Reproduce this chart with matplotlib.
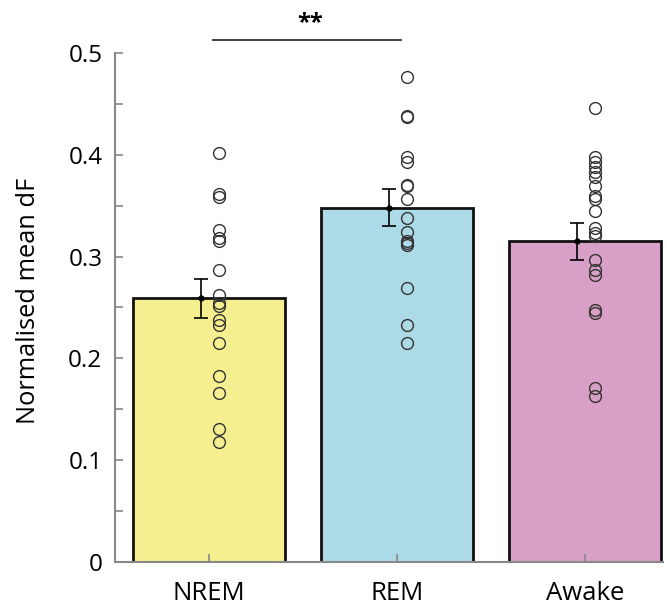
import numpy as np
import matplotlib
matplotlib.use("Agg")
import matplotlib.pyplot as plt

# -------------------------------------
# Data
# -------------------------------------
states = ["NREM", "REM", "Awake"]
bar_colors = ["#F5EF8F", "#ACDAE6", "#D8A0C7"]
means = [0.259, 0.348, 0.315]
sems = [0.019, 0.018, 0.018]

nrem_pts = [0.402, 0.361, 0.359, 0.326, 0.318, 0.315, 0.287, 0.262, 0.254,
            0.251, 0.238, 0.233, 0.215, 0.183, 0.166, 0.131, 0.118]
rem_pts = [0.476, 0.438, 0.437, 0.398, 0.393, 0.370, 0.369, 0.357, 0.338,
           0.324, 0.315, 0.313, 0.311, 0.269, 0.233, 0.215]
awake_pts = [0.446, 0.398, 0.393, 0.388, 0.383, 0.378, 0.369, 0.360, 0.357,
             0.345, 0.328, 0.323, 0.320, 0.297, 0.287, 0.282, 0.248, 0.245,
             0.171, 0.163]
points = [nrem_pts, rem_pts, awake_pts]

sig_pair = (0, 1)
sig_label = "**"

# -------------------------------------
# Plot
# -------------------------------------
plt.rcParams['font.family'] = ['Open Sans', 'DejaVu Sans']

fig = plt.figure(figsize=(6.67, 6.05), dpi=100)
ax = fig.add_axes([0.1724, 0.0711, 0.8216, 0.8413])

x = np.arange(len(states))
ax.bar(x, means, width=0.81, color=bar_colors, edgecolor="#111111",
       linewidth=2, zorder=1)

# mean +/- sem, drawn slightly left of centre
ax.errorbar(x - 0.04, means, yerr=sems, fmt="o", color="black", ms=3.5,
            capsize=5, elinewidth=1.2, capthick=1.2, zorder=3)

# individual points, slightly right of centre
for i, pts in enumerate(points):
    ax.plot(np.full(len(pts), x[i] + 0.055), pts, "o", mfc="none",
            mec="#333333", ms=8.5, mew=1.0, zorder=4)

ax.set_xlim(-0.5, 2.415)
ax.set_ylim(0, 0.5)
ax.set_xticks(x)
ax.set_xticklabels(states, fontsize=18.5)
ax.set_yticks([0, 0.1, 0.2, 0.3, 0.4, 0.5])
ax.set_yticklabels(["0", "0.1", "0.2", "0.3", "0.4", "0.5"], fontsize=17.5)
ax.set_yticks(np.arange(0.05, 0.5, 0.1), minor=True)
ax.set_ylabel("Normalised mean dF", fontsize=18.3)
ax.yaxis.set_label_coords(-0.135, 0.513)

for side in ["top", "right"]:
    ax.spines[side].set_visible(False)
for side in ["left", "bottom"]:
    ax.spines[side].set_color("#888888")
    ax.spines[side].set_linewidth(1.5)
ax.tick_params(axis="both", which="both", direction="in", color="#888888",
               width=1.2, length=6)
ax.tick_params(axis="y", pad=9)
ax.tick_params(axis="x", pad=13.5)

# significance bracket
y_sig = 0.513
ax.plot([x[sig_pair[0]] + 0.02, x[sig_pair[1]] + 0.02], [y_sig, y_sig],
        color="#333333", lw=1.3, clip_on=False)
ax.text((x[sig_pair[0]] + x[sig_pair[1]]) / 2 + 0.04, y_sig + 0.005,
        sig_label, ha="center", va="bottom", fontsize=17, fontweight="bold")

fig.savefig("out.png", dpi=100)
plt.close(fig)
